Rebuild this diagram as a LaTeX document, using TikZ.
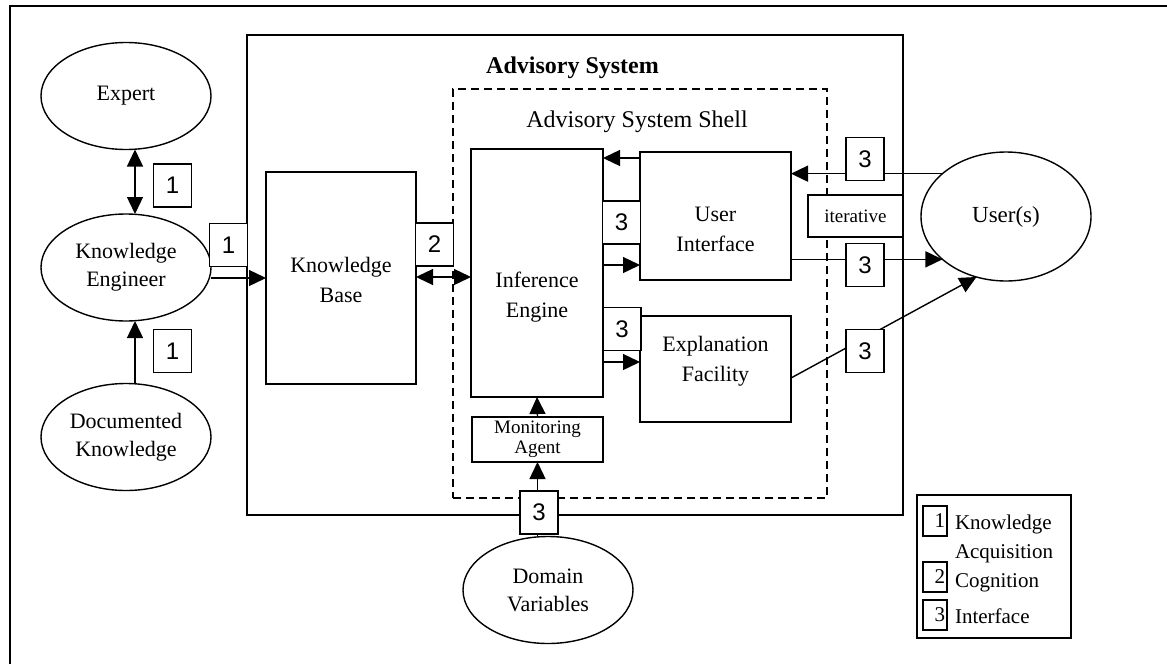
\documentclass[tikz,border=0pt]{standalone}
\usepackage{fontspec}
\setmainfont{Liberation Serif}
\newfontfamily\numfont{Liberation Sans}
\usetikzlibrary{shapes.geometric,arrows.meta,calc}
\begin{document}
\begin{tikzpicture}[x=1pt,y=-1pt,
  every node/.style={inner sep=0pt, outer sep=0pt},
  lw/.style={line width=1.4pt},
  ell/.style={ellipse, draw, lw, minimum width=170pt, minimum height=107pt, align=center, font=\fontsize{22}{28}\selectfont},
  blk/.style={rectangle, draw, lw},
  numbox/.style={rectangle, draw, lw, fill=white, minimum width=38pt, minimum height=43pt, font=\numfont\fontsize{24}{24}\selectfont},
  txt/.style={align=center, font=\fontsize{22}{30}\selectfont},
  arr/.style={lw, -{Triangle[length=17pt,width=16pt]}},
  darr/.style={lw, {Triangle[length=17pt,width=16pt]}-{Triangle[length=17pt,width=16pt]}},
  legnum/.style={rectangle, draw, line width=1.5pt, minimum width=24pt, minimum height=30pt, text width=20pt, align=right, font=\fontsize{21}{21}\selectfont},
  legtxt/.style={anchor=base west, font=\fontsize{21}{21}\selectfont}
]
\useasboundingbox (0,0) rectangle (1167,664);
% outer frame (right and bottom edges lie outside the picture)
\draw[line width=2pt] (10,664) -- (10,6) -- (1167,6);

% containers
\node[rectangle, draw, line width=1.4pt, minimum width=656pt, minimum height=480pt] (AS) at (575,275) {};
\node[anchor=base, font=\bfseries\fontsize{24}{24}\selectfont] (AStitle) at (572.5,73) {Advisory System};
\node[rectangle, draw, line width=1.8pt, dash pattern=on 8pt off 5pt, minimum width=374pt, minimum height=409pt] (Shell) at (640,293.5) {};
\node[anchor=base, font=\fontsize{24}{24}\selectfont] (Shelltitle) at (637,127) {Advisory System Shell};

% ellipses
\node[ell] (Expert) at (126,96) {Expert};
\node[ell] (KE) at (126,267.5) {Knowledge\\Engineer};
\node[ell] (DK) at (126,437) {Documented\\Knowledge};
\node[ell] (DV) at (548,590) {Domain\\Variables};
\node[ell, minimum height=129pt, font=\fontsize{23}{23}\selectfont] (Users) at (1006,216.5) {User(s)};

% blocks
\node[blk, minimum width=150pt, minimum height=212pt] (KB) at (341,278) {};
\node[txt] (KBtext) at (341,280) {Knowledge\\Base};
\node[blk, minimum width=132pt, minimum height=248pt] (IE) at (537,273) {};
\node[txt] (IEtext) at (537,297) {Inference\\Engine};
\node[blk, minimum width=151pt, minimum height=128pt] (UI) at (715.5,216) {};
\node[txt] (UItext) at (715.5,229) {User\\Interface};
\node[blk, minimum width=151pt, minimum height=106pt] (EF) at (715.5,369) {};
\node[txt] (EFtext) at (715.5,361) {Explanation\\Facility};
\node[rectangle, draw, lw, minimum width=131pt, minimum height=45pt, align=center, font=\fontsize{19}{20}\selectfont] (MA) at (537.5,439.5) {Monitoring\\Agent};

% connectors
\draw[darr] ($(Expert.south)+(9,0)$) -- ($(KE.north)+(9,0)$);
\draw[arr] ($(DK.north)+(9,0)$) -- ($(KE.south)+(9,0)$);
\draw[arr] (KE.east |- 0,278) -- (KB.west |- 0,278);
\draw[darr] (KB.east |- 0,277) -- (IE.west |- 0,277);
\draw[arr] (UI.west |- 0,158) -- (IE.east |- 0,158);
\draw[arr] (IE.east |- 0,265) -- (UI.west |- 0,265);
\draw[arr] (IE.east |- 0,362) -- (EF.west |- 0,362);
\draw[arr] (Users.146) -- (UI.east |- Users.146);
\draw[arr] (UI.east |- Users.214) -- (Users.214);
\draw[arr] (EF.east |- 0,378) -- (Users.244);
\draw[arr] (MA.north) -- (IE.south);
\draw[arr] (MA.south |- DV.north) -- (MA.south);

% iterative label box
\node[rectangle, draw, lw, fill=white, minimum width=95pt, minimum height=42pt, font=\fontsize{19}{19}\selectfont] (iter) at (855.5,216) {iterative};

% numbered boxes
\node[numbox] (n1a) at (172.5,185.5) {1};
\node[numbox] (n1b) at (228.5,245) {1};
\node[numbox] (n1c) at (172.5,351) {1};
\node[numbox] (n2) at (434.5,244.5) {2};
\node[numbox] (n3a) at (621.5,222.5) {3};
\node[numbox] (n3b) at (622,329) {3};
\node[numbox] (n3c) at (865,159) {3};
\node[numbox] (n3d) at (865,265) {3};
\node[numbox] (n3e) at (865,351) {3};
\node[numbox] (n3f) at (539,512.5) {3};

% legend
\node[rectangle, draw, line width=1.8pt, minimum width=154pt, minimum height=143pt] (leg) at (994,566.5) {};
\node[legnum] (leg1) at (935,521) {1};
\node[legnum] (leg2) at (935,577) {2};
\node[legnum] (leg3) at (935,615) {3};
\node[legtxt] (legt1) at (955,529) {Knowledge};
\node[legtxt] (legt1b) at (955,558) {Acquisition};
\node[legtxt] (legt2) at (955,587) {Cognition};
\node[legtxt] (legt3) at (955,623) {Interface};
\end{tikzpicture}
\end{document}
